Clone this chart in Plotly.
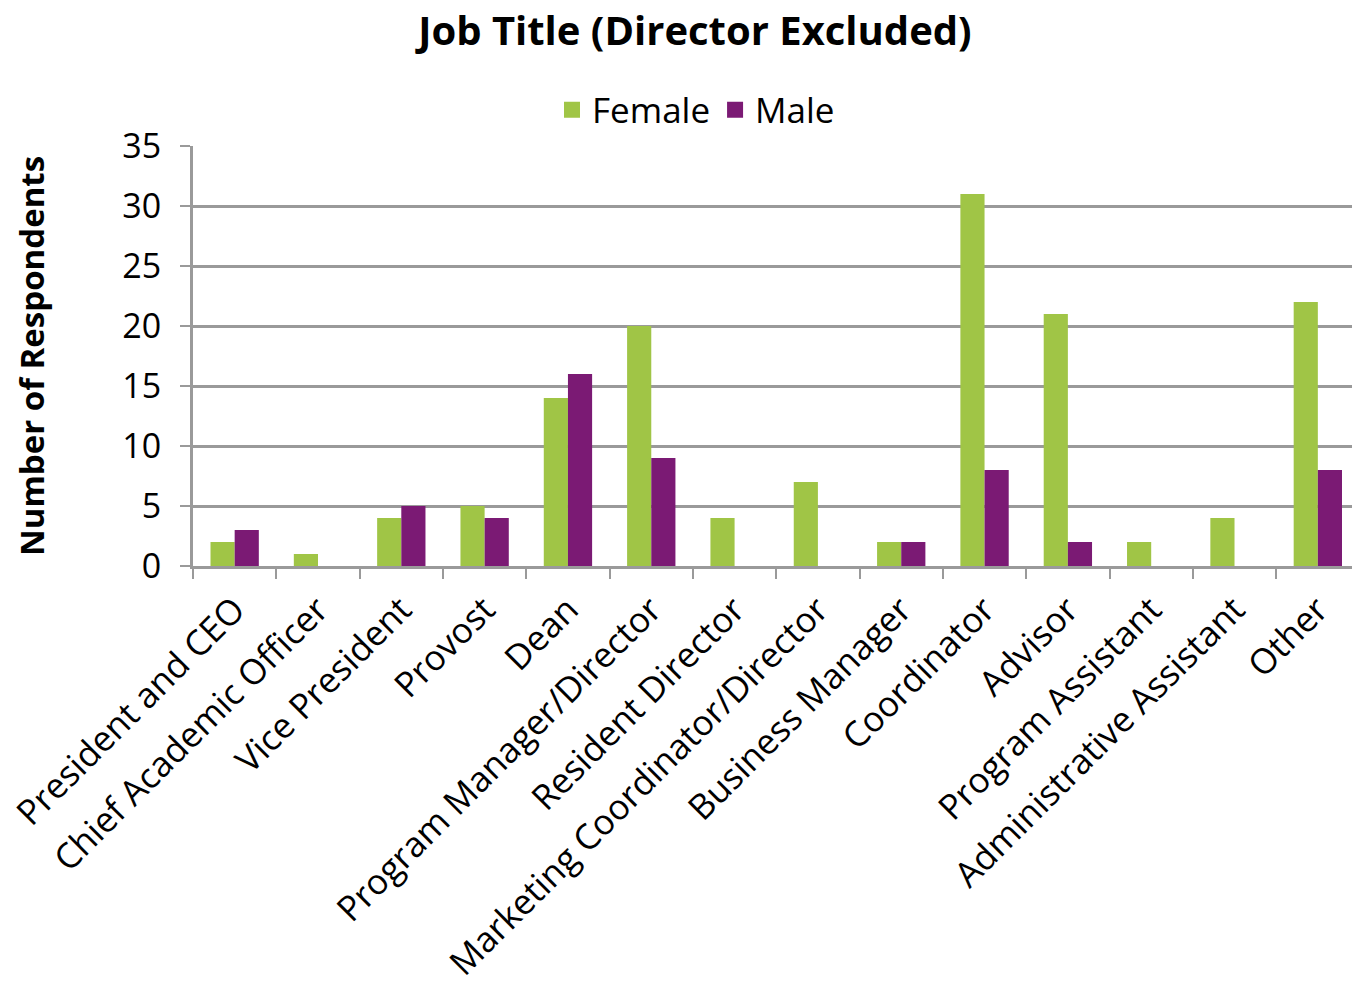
import plotly.graph_objects as go

categories = ["President and CEO", "Chief Academic Officer", "Vice President", "Provost", "Dean",
              "Program Manager/Director", "Resident Director", "Marketing Coordinator/Director",
              "Business Manager", "Coordinator", "Advisor", "Program Assistant",
              "Administrative Assistant", "Other"]
female = [2, 1, 4, 5, 14, 20, 4, 7, 2, 31, 21, 2, 4, 22]
male = [3, 0, 5, 4, 16, 9, 0, 0, 2, 8, 2, 0, 0, 8]
y_ticks = [0, 5, 10, 15, 20, 25, 30, 35]

FONT = "Open Sans"
GREEN = "#A0C546"
PURPLE = "#7B1A74"

fig = go.Figure()
fig.add_trace(go.Bar(name="Female", x=categories, y=female, showlegend=False,
                     marker=dict(color=GREEN, line=dict(width=0))))
fig.add_trace(go.Bar(name="Male", x=categories, y=male, showlegend=False,
                     marker=dict(color=PURPLE, line=dict(width=0))))
# legend entries with larger square swatches
fig.add_trace(go.Scatter(name="Female", x=[None], y=[None], mode="markers",
                         marker=dict(symbol="square", size=21, color=GREEN)))
fig.add_trace(go.Scatter(name="Male", x=[None], y=[None], mode="markers",
                         marker=dict(symbol="square", size=21, color=PURPLE)))

fig.update_layout(
    width=1352, height=991,
    margin=dict(l=193, r=0, t=146, b=425),
    paper_bgcolor="white", plot_bgcolor="white",
    barmode="group", bargap=0.42, bargroupgap=0,
    font=dict(family=FONT, color="black", size=34),
    title=dict(text="<b>Job Title (Director Excluded)</b>", x=0.514, xanchor="center",
               y=0.969, yanchor="middle", font=dict(size=40, family=FONT)),
    legend=dict(orientation="h", x=0.434, xanchor="center", y=1.086, yanchor="middle",
                font=dict(size=35, family=FONT), itemwidth=30, tracegroupgap=0),
    showlegend=True,
)
fig.update_xaxes(
    type="category", range=[-0.5, 13.41],
    tickangle=-45, tickfont=dict(size=35, family=FONT), ticklabelstandoff=6,
    tickson="boundaries", ticks="outside", ticklen=10, tickwidth=2, tickcolor="#9a9a9a",
    showline=True, linecolor="#9a9a9a", linewidth=3, showgrid=False,
)
fig.update_yaxes(
    range=[0, 35], tickvals=y_ticks, tickfont=dict(size=34, family=FONT),
    ticks="outside", ticklen=10, tickwidth=2, tickcolor="#9a9a9a", ticklabelstandoff=12,
    showline=True, linecolor="#9a9a9a", linewidth=3,
    showgrid=True, gridcolor="#9a9a9a", gridwidth=2.5, zeroline=False,
    title=dict(text="<b>Number of Respondents</b>", font=dict(size=33, family=FONT), standoff=68),
)

fig.write_html("out.html")
